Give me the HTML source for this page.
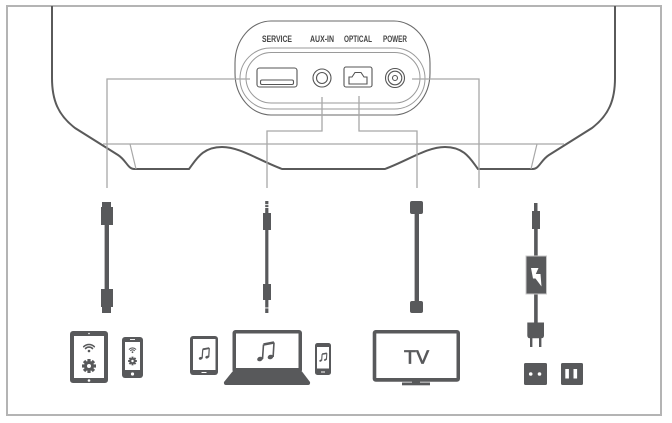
<!DOCTYPE html>
<html><head><meta charset="utf-8"><style>
html,body{margin:0;padding:0;background:#fff;}
svg{display:block;}
</style></head><body>
<svg width="672" height="423" viewBox="0 0 672 423" xmlns="http://www.w3.org/2000/svg">
<rect x="7" y="6" width="654" height="409" fill="#fff" stroke="#b4b4b4" stroke-width="2"/>
<!-- speaker outline -->
<path d="M52,6 V78 C52,100 58,115 75,128 L118,155 C126,160 128,169 134,169 H189 C196,160 202,147 222,147 C240,147 258,160 282,169 H385 C409,160 427,147 445,147 C465,147 471,160 478,169 H533 C539,169 541,160 549,155 L592,128 C609,115 615,100 615,78 V6" fill="none" stroke="#5a5a5a" stroke-width="2"/>
<path d="M103,144 H564 M130,144 L136,169 M537,144 L531,169" fill="none" stroke="#a8a8a8" stroke-width="1.2"/>
<!-- panel -->
<rect x="235" y="21" width="195" height="94" rx="36" ry="42" fill="none" stroke="#6a6a6a" stroke-width="1.1"/>
<rect x="240" y="48" width="185" height="61" rx="30.5" fill="none" stroke="#9a9a9a" stroke-width="1"/>
<rect x="246" y="52.5" width="174" height="50.5" rx="25.25" fill="none" stroke="#9a9a9a" stroke-width="1"/>
<g font-family="Liberation Sans, sans-serif" font-size="9" fill="#444" font-weight="bold">
<text x="262" y="42" textLength="30" lengthAdjust="spacingAndGlyphs">SERVICE</text>
<text x="310" y="42" textLength="24" lengthAdjust="spacingAndGlyphs">AUX-IN</text>
<text x="344" y="42" textLength="28" lengthAdjust="spacingAndGlyphs">OPTICAL</text>
<text x="383" y="42" textLength="24" lengthAdjust="spacingAndGlyphs">POWER</text>
</g>
<!-- connector lines -->
<path d="M250,79 H107 V188 M322,97 V131 H267 V188 M359,96 V131 H417 V188 M412,79 H479 V188" fill="none" stroke="#a8a8a8" stroke-width="1.3"/>
<!-- ports -->
<g fill="none" stroke="#555" stroke-width="1.1">
<rect x="257" y="68" width="40" height="19" rx="2.5"/>
<rect x="260.5" y="80" width="33" height="4.5" rx="1.5"/>
<circle cx="322" cy="78" r="9"/>
<circle cx="322" cy="78" r="5.5"/>
<rect x="344" y="67" width="28" height="20" rx="2"/>
<polygon points="349,84 349,77 352,77 355,72.5 361,72.5 364,77 367,77 367,84"/>
<circle cx="395" cy="78" r="9.5"/>
<circle cx="395" cy="78" r="6.8"/>
<circle cx="395" cy="78" r="2.5"/>
</g>
<!-- cables -->
<g fill="#58595b">
<!-- usb -->
<rect x="102" y="202" width="9" height="6"/>
<rect x="101" y="207" width="12" height="18"/>
<rect x="104.6" y="224" width="4.4" height="66"/>
<rect x="101" y="289" width="12" height="18"/>
<rect x="102" y="306" width="9" height="7"/>
<!-- aux -->
<rect x="265.2" y="201" width="3.2" height="13"/>
<rect x="263" y="213" width="8" height="17"/>
<rect x="265.2" y="229" width="3.2" height="56"/>
<rect x="263" y="284" width="8" height="16"/>
<rect x="265.2" y="299" width="3.2" height="14"/>
<!-- optical -->
<rect x="410" y="201" width="13" height="13" rx="2"/>
<rect x="414.6" y="213" width="4.4" height="89"/>
<rect x="410" y="301" width="13" height="12" rx="2"/>
<!-- power -->
<rect x="534" y="203" width="3.5" height="9"/>
<rect x="532" y="211" width="8" height="18"/>
<rect x="534.1" y="228" width="3.6" height="95"/>
<rect x="526" y="256" width="20.5" height="38" stroke="#c8c8c8" stroke-width="1"/>
<path d="M527.3,322.5 H544 V335.5 Q544,338.3 541.2,338.3 H530.1 Q527.3,338.3 527.3,335.5 Z"/>
<rect x="530" y="337" width="2.4" height="10"/>
<rect x="539" y="337" width="2.4" height="10"/>
<!-- sockets -->
<rect x="524" y="363" width="23" height="22" rx="1.5"/>
<rect x="561" y="363" width="22" height="22" rx="1.5"/>
</g>
<polygon points="531,268 538.5,268 535.8,274 540.5,274 541.5,286.5 535.5,278.5 533,278.5" fill="#fff"/>
<g fill="#fff">
<circle cx="530.7" cy="374" r="1.8"/>
<circle cx="539.5" cy="374" r="1.8"/>
<rect x="565.3" y="369" width="3.6" height="9.5"/>
<rect x="573.5" y="369" width="3.6" height="9.5"/>
<rect x="265" y="204.2" width="3.6" height="0.9"/>
<rect x="265" y="207" width="3.6" height="0.9"/>
<rect x="265" y="307.5" width="3.6" height="0.9"/>
</g>
<!-- tablet 1 -->
<rect x="70" y="331" width="38" height="52" rx="3" fill="#58595b"/>
<rect x="74" y="336" width="30" height="42" fill="#fff"/>
<circle cx="89" cy="333.5" r="0.8" fill="#fff"/>
<circle cx="89" cy="380.5" r="1.3" fill="#fff"/>
<g fill="none" stroke="#58595b" stroke-width="1.6" stroke-linecap="round">
<path d="M83.7,346.7 A7.5,7.5 0 0 1 94.3,346.7"/>
<path d="M85.5,348.5 A5,5 0 0 1 92.5,348.5"/>
</g>
<circle cx="89" cy="351" r="1.3" fill="#58595b"/>
<g transform="translate(89,366)" fill="#58595b">
<circle r="5"/>
<rect x="-1.6" y="-7" width="3.2" height="14"/>
<rect x="-1.6" y="-7" width="3.2" height="14" transform="rotate(45)"/>
<rect x="-1.6" y="-7" width="3.2" height="14" transform="rotate(90)"/>
<rect x="-1.6" y="-7" width="3.2" height="14" transform="rotate(135)"/>
<circle r="2" fill="#fff"/>
</g>
<!-- phone 1 -->
<rect x="122" y="337" width="21" height="41" rx="3" fill="#58595b"/>
<rect x="125" y="342" width="15" height="28" fill="#fff"/>
<rect x="130" y="339" width="5" height="0.9" fill="#fff"/>
<circle cx="132.5" cy="374" r="1.6" fill="#fff"/>
<g fill="none" stroke="#58595b" stroke-width="1.1" stroke-linecap="round">
<path d="M129.3,349.3 A4.5,4.5 0 0 1 135.7,349.3"/>
<path d="M130.6,350.6 A2.7,2.7 0 0 1 134.4,350.6"/>
</g>
<circle cx="132.5" cy="352.2" r="0.9" fill="#58595b"/>
<g transform="translate(132.5,361) scale(0.62)" fill="#58595b">
<circle r="5"/>
<rect x="-1.6" y="-7" width="3.2" height="14"/>
<rect x="-1.6" y="-7" width="3.2" height="14" transform="rotate(45)"/>
<rect x="-1.6" y="-7" width="3.2" height="14" transform="rotate(90)"/>
<rect x="-1.6" y="-7" width="3.2" height="14" transform="rotate(135)"/>
<circle r="2" fill="#fff"/>
</g>
<!-- tablet 2 -->
<rect x="190" y="336" width="28" height="39" rx="3" fill="#58595b"/>
<rect x="193" y="339" width="22.5" height="31" fill="#fff"/>
<rect x="201.5" y="372" width="5" height="1" fill="#fff"/>
<!-- laptop -->
<rect x="232.5" y="330" width="69.5" height="43" rx="3" fill="#58595b"/>
<rect x="236" y="333.5" width="62.5" height="34.5" fill="#fff"/>
<path d="M232.5,371.5 H302 L310,382 Q310.5,385 308,385 H226 Q223.5,385 224,382 Z" fill="#58595b"/>
<!-- phone 2 -->
<rect x="315" y="343" width="16" height="32" rx="2.5" fill="#58595b"/>
<rect x="317" y="347" width="12" height="21.5" fill="#fff"/>
<rect x="321" y="371.5" width="4" height="1" fill="#fff"/>
<!-- notes -->
<g fill="#58595b" stroke="#58595b">
<g transform="translate(265.5,352)">
<ellipse cx="-5.5" cy="7" rx="2.9" ry="2.2" transform="rotate(-20 -5.5 7)" stroke="none"/>
<ellipse cx="5" cy="5" rx="2.9" ry="2.2" transform="rotate(-20 5 5)" stroke="none"/>
<path d="M-3,7 L-2,-7.5 M7.6,5 L8.5,-9.5" fill="none" stroke-width="1.6"/>
<path d="M-2,-7.5 L8.5,-9.5" fill="none" stroke-width="2.6"/>
</g>
<g transform="translate(204,354) scale(0.62)">
<ellipse cx="-5.5" cy="7" rx="2.9" ry="2.2" transform="rotate(-20 -5.5 7)" stroke="none"/>
<ellipse cx="5" cy="5" rx="2.9" ry="2.2" transform="rotate(-20 5 5)" stroke="none"/>
<path d="M-3,7 L-2,-7.5 M7.6,5 L8.5,-9.5" fill="none" stroke-width="2"/>
<path d="M-2,-7.5 L8.5,-9.5" fill="none" stroke-width="3"/>
</g>
<g transform="translate(323,357.5) scale(0.45)">
<ellipse cx="-5.5" cy="7" rx="2.9" ry="2.2" transform="rotate(-20 -5.5 7)" stroke="none"/>
<ellipse cx="5" cy="5" rx="2.9" ry="2.2" transform="rotate(-20 5 5)" stroke="none"/>
<path d="M-3,7 L-2,-7.5 M7.6,5 L8.5,-9.5" fill="none" stroke-width="2.4"/>
<path d="M-2,-7.5 L8.5,-9.5" fill="none" stroke-width="3.4"/>
</g>
</g>
<!-- TV -->
<rect x="372.7" y="330" width="87.3" height="51.7" rx="3" fill="#58595b"/>
<rect x="376.3" y="333.5" width="80.2" height="44.5" fill="#fff"/>
<rect x="412" y="380" width="8" height="3.5" fill="#58595b"/>
<rect x="402" y="382.5" width="28" height="2.8" fill="#58595b"/>
<text x="404" y="363.3" textLength="25" lengthAdjust="spacingAndGlyphs" font-family="Liberation Sans, sans-serif" font-size="18.5" fill="#58595b" stroke="#58595b" stroke-width="0.7">TV</text>
</svg>
</body></html>
